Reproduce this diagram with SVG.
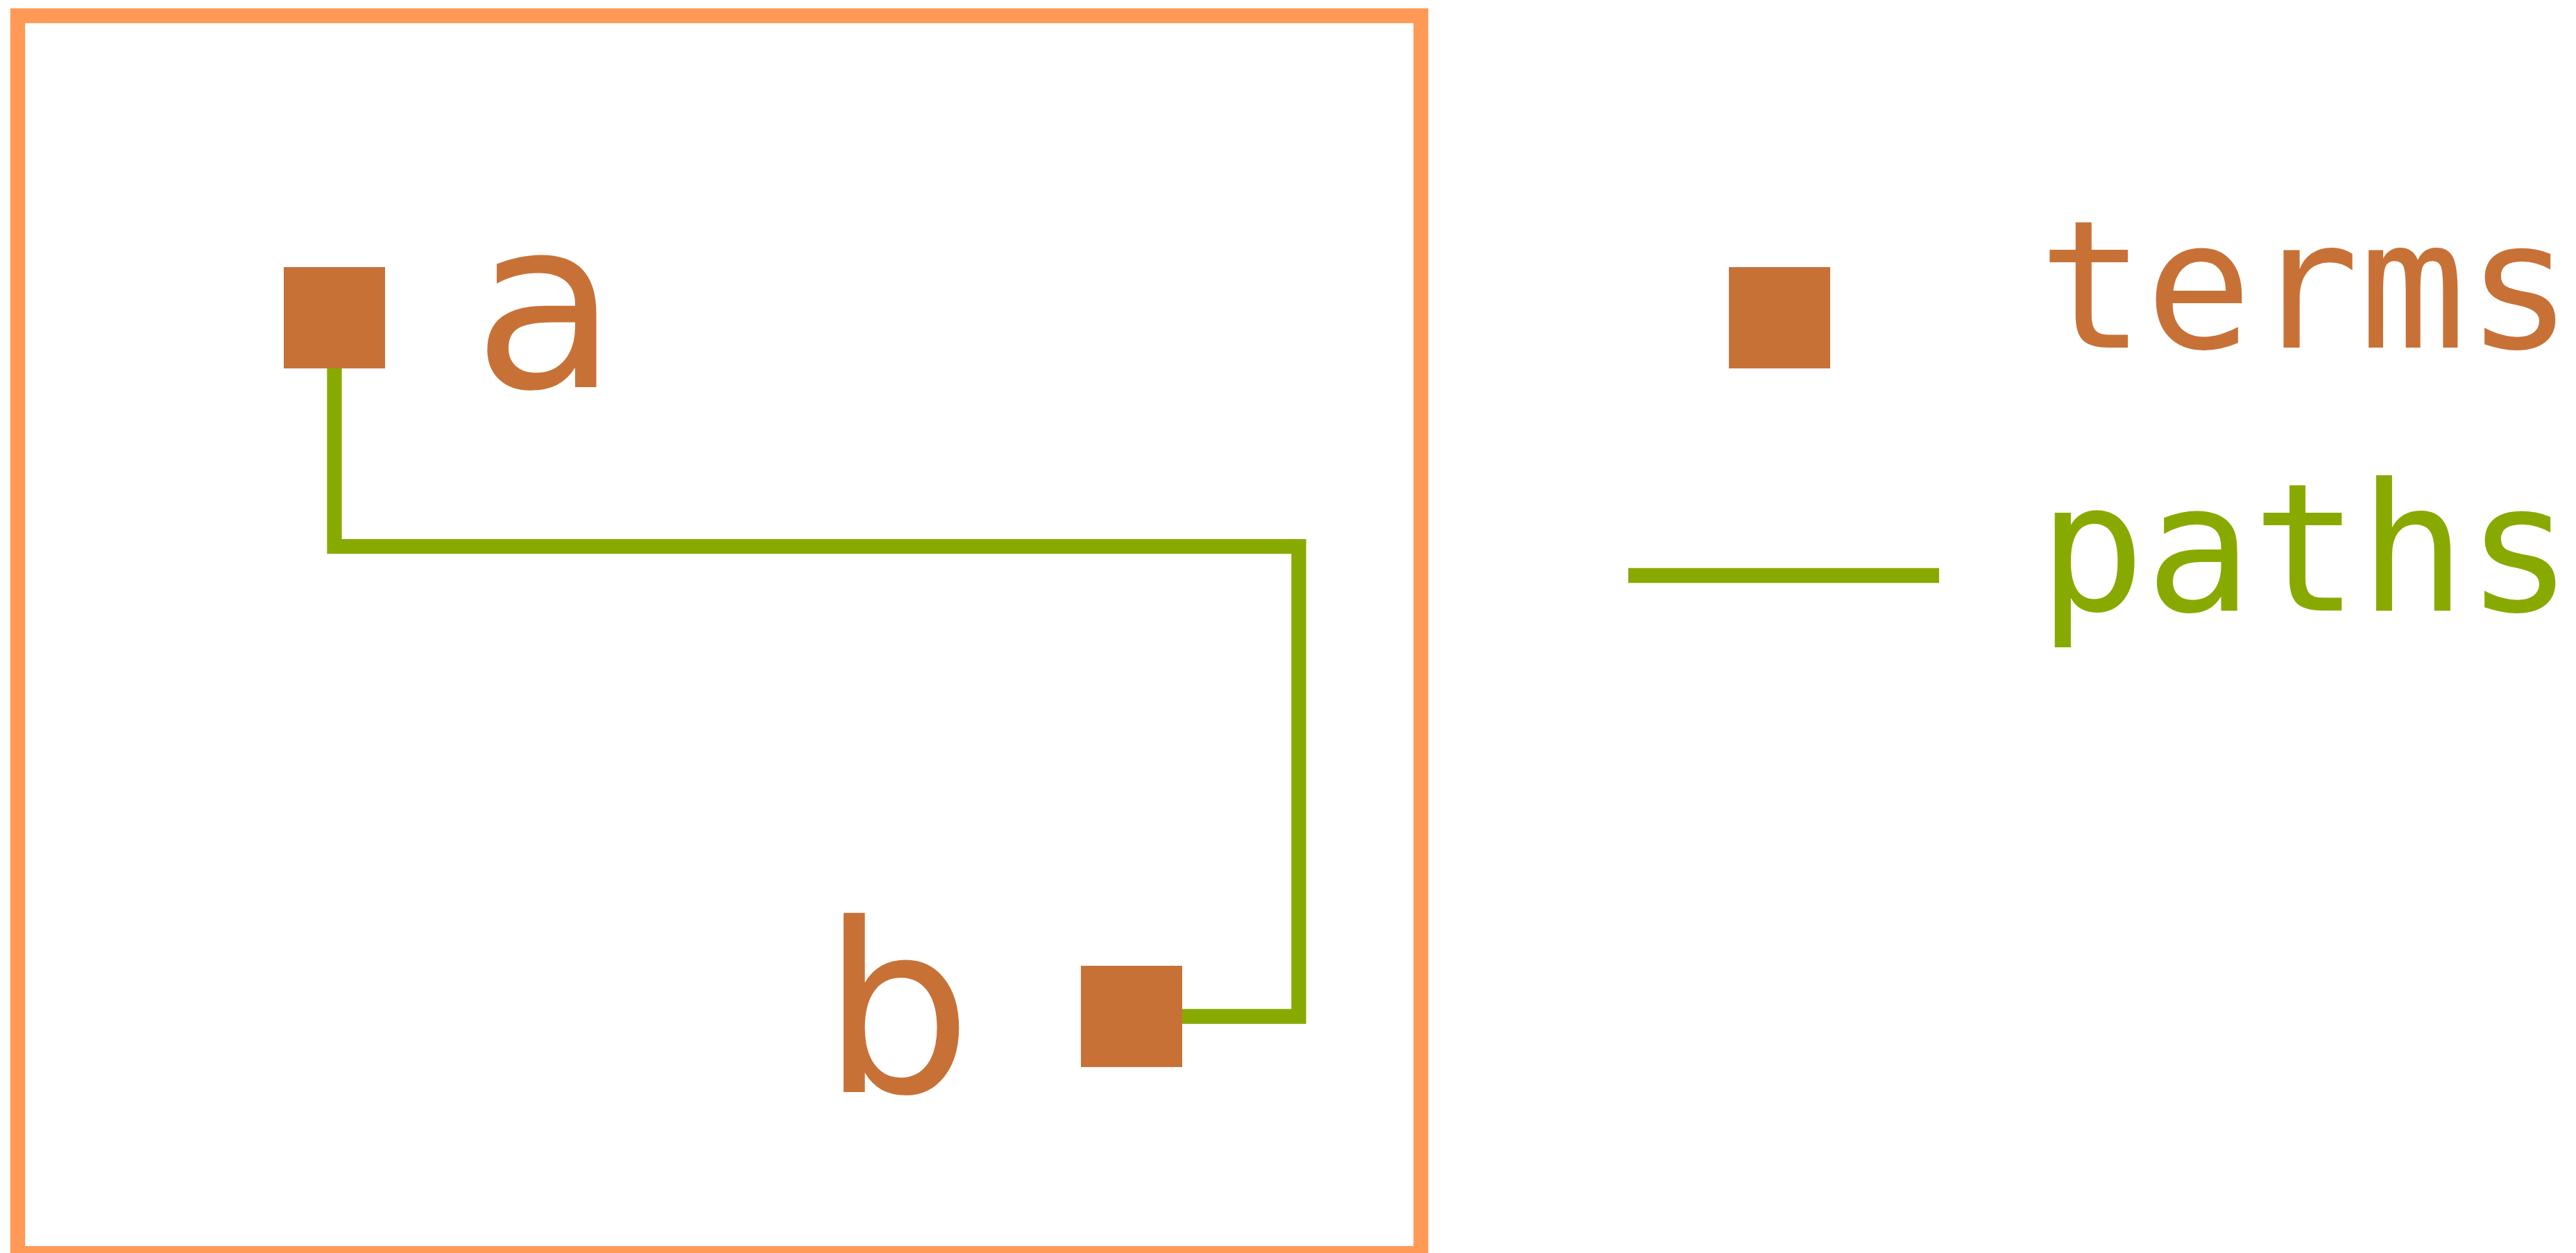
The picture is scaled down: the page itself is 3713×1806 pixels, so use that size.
<svg xmlns="http://www.w3.org/2000/svg" width="3713" height="1806" viewBox="0 0 3713 1806">
<style>
.term{fill:#c87137}
.path{fill:none;stroke:#88aa00;stroke-width:21.3;stroke-linejoin:miter;stroke-linecap:butt}
.lbl{font-family:"DejaVu Sans",sans-serif;font-size:340px;fill:#c87137}
.leg{font-family:"DejaVu Sans Mono",monospace;font-size:256px}
</style>
<rect width="3713" height="1806" fill="#ffffff"/>
<g id="frame"><rect x="25.5" y="22.7" width="2022.5" height="1784" fill="none" stroke="#ff9955" stroke-width="21.3"/></g>
<g id="connectors">
<path class="path" d="M482,531 V787.7 H1872 V1465 H1704"/>
</g>
<g id="node-a">
<rect class="term" x="409" y="385" width="146" height="146"/>
<text class="lbl" x="682" y="558">a</text>
</g>
<g id="node-b">
<rect class="term" x="1558" y="1392" width="146" height="146"/>
<text class="lbl" x="1185" y="1574">b</text>
</g>
<g id="legend">
<rect class="term" x="2492" y="385" width="146" height="146"/>
<text class="leg" x="2938" y="501" fill="#c87137">terms</text>
<line x1="2347" y1="829.5" x2="2795" y2="829.5" stroke="#88aa00" stroke-width="21.3"/>
<text class="leg" x="2938" y="880" fill="#88aa00">paths</text>
</g>
</svg>
